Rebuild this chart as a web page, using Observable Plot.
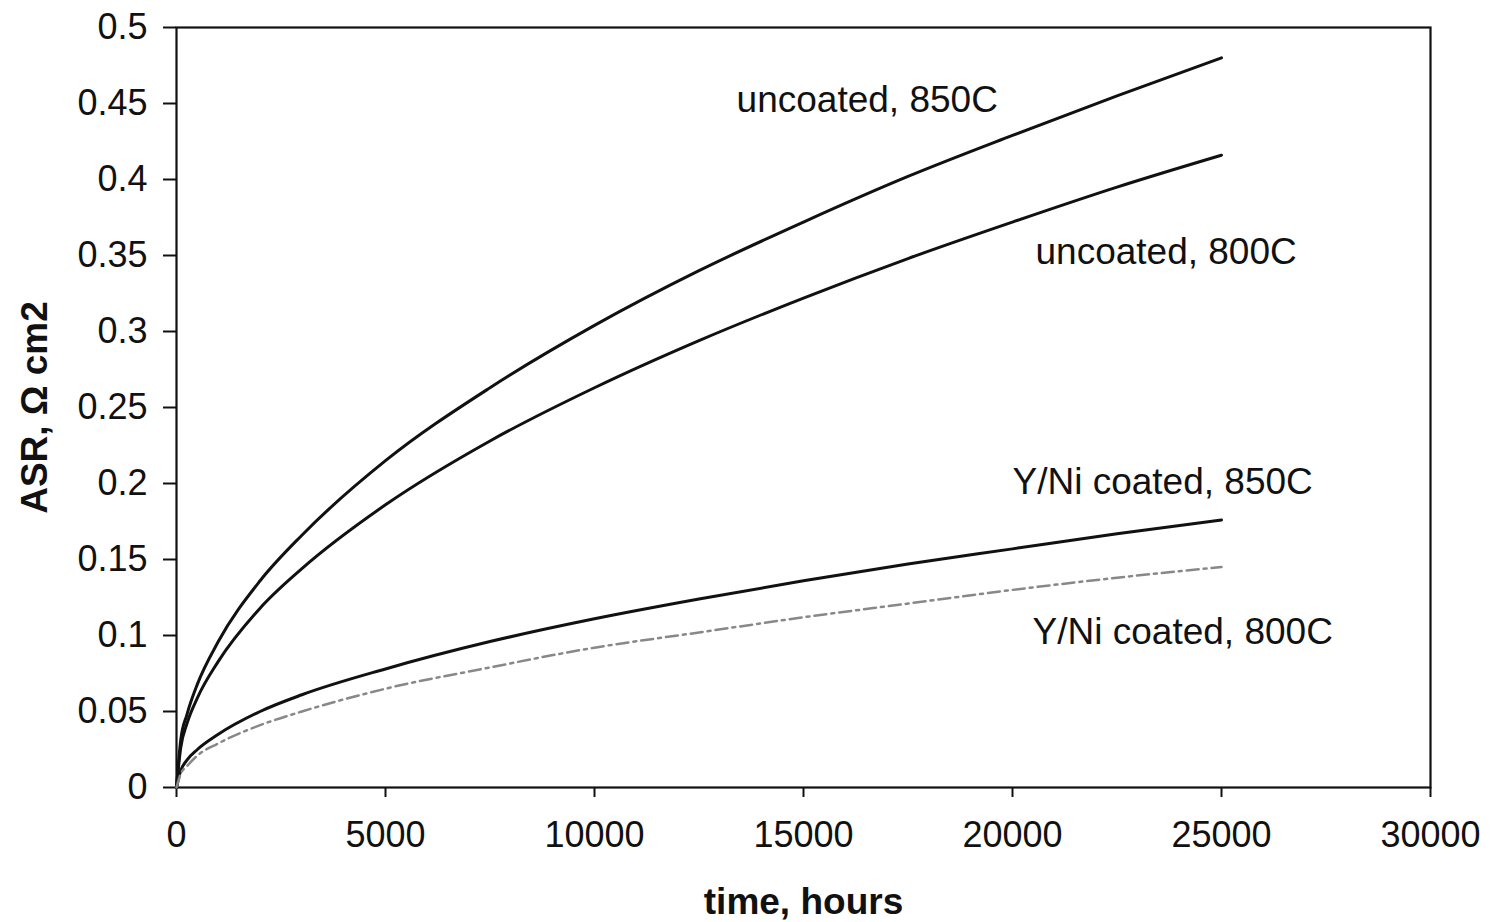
<!DOCTYPE html>
<html>
<head>
<meta charset="utf-8">
<script src="https://cdn.jsdelivr.net/npm/d3@7"></script>
<script src="https://cdn.jsdelivr.net/npm/@observablehq/plot@0.6"></script>
<style>
  html, body { margin: 0; padding: 0; background: #fff; }
  #chart { width: 1494px; height: 922px; }
</style>
</head>
<body>
<div id="chart"></div>
<script>
// time, hours
const hours = [0, 100, 250, 500, 1000, 2000, 3000, 5000, 7500, 10000, 12500, 15000, 17500, 20000, 22500, 25000];

// ASR, ohm cm2
const uncoated850 = [0, 0.031, 0.048, 0.068, 0.096, 0.136, 0.166, 0.215, 0.263, 0.304, 0.340, 0.372, 0.402, 0.429, 0.455, 0.480];
const uncoated800 = [0, 0.026, 0.042, 0.059, 0.083, 0.118, 0.144, 0.186, 0.228, 0.263, 0.294, 0.322, 0.348, 0.372, 0.395, 0.416];
const coated850   = [0, 0.011, 0.018, 0.025, 0.035, 0.050, 0.061, 0.078, 0.096, 0.111, 0.124, 0.136, 0.147, 0.157, 0.167, 0.176];
const coated800   = [0, 0.009, 0.014, 0.021, 0.029, 0.041, 0.050, 0.065, 0.079, 0.092, 0.102, 0.112, 0.121, 0.130, 0.138, 0.145];

const xTicks = [0, 5000, 10000, 15000, 20000, 25000, 30000];
const yTicks = [0, 0.05, 0.1, 0.15, 0.2, 0.25, 0.3, 0.35, 0.4, 0.45, 0.5];

const seriesNames = ["uncoated, 850C", "uncoated, 800C", "Y/Ni coated, 850C", "Y/Ni coated, 800C"];
// label anchor points in data units (time, ASR)
const labelHours = [13400, 20550, 20000, 20480];
const labelASR = [0.452, 0.352, 0.2007, 0.102];

const xTitle = "time, hours";
const yTitle = "ASR, \u03A9 cm2";

const rows = (vals) => hours.map((t, i) => ({t, v: vals[i]}));
const labels = seriesNames.map((name, i) => ({name, t: labelHours[i], v: labelASR[i]}));

const font = "'Liberation Sans', Arial, Helvetica, sans-serif";

const chart = Plot.plot({
  width: 1494,
  height: 922,
  marginLeft: 176,
  marginRight: 64,
  marginTop: 27,
  marginBottom: 135,
  style: { fontFamily: font, background: "#fff", color: "#111" },
  x: { domain: [0, 30000] },
  y: { domain: [0, 0.5] },
  marks: [
    Plot.frame({ stroke: "#111", strokeWidth: 2.2 }),
    Plot.axisX({ ticks: xTicks, tickFormat: d => String(d), tickSize: 10, tickPadding: 24, fontSize: 36, label: null, stroke: "#111", strokeWidth: 2 }),
    Plot.axisY({ ticks: yTicks, tickFormat: d => String(d), tickSize: 13, tickPadding: 16, fontSize: 36, label: null, stroke: "#111", strokeWidth: 2 }),
    Plot.line(rows(uncoated850), { x: "t", y: "v", stroke: "#111", strokeWidth: 3, curve: "monotone-x" }),
    Plot.line(rows(uncoated800), { x: "t", y: "v", stroke: "#111", strokeWidth: 3, curve: "monotone-x" }),
    Plot.line(rows(coated850), { x: "t", y: "v", stroke: "#111", strokeWidth: 3, curve: "monotone-x" }),
    Plot.line(rows(coated800), { x: "t", y: "v", stroke: "#888", strokeWidth: 2.5, strokeDasharray: "12 5 3 5", curve: "monotone-x" }),
    Plot.text(labels, { x: "t", y: "v", text: "name", textAnchor: "start", fontSize: 37, fill: "#111" }),
    Plot.text([xTitle], { frameAnchor: "bottom", textAnchor: "middle", dy: 126, fontSize: 37, fontWeight: "bold", fill: "#111" }),
    Plot.text([yTitle], { frameAnchor: "left", textAnchor: "middle", rotate: -90, dx: -141, dy: 0, fontSize: 37, fontWeight: "bold", fill: "#111" })
  ]
});
document.getElementById("chart").appendChild(chart);
</script>
</body>
</html>
